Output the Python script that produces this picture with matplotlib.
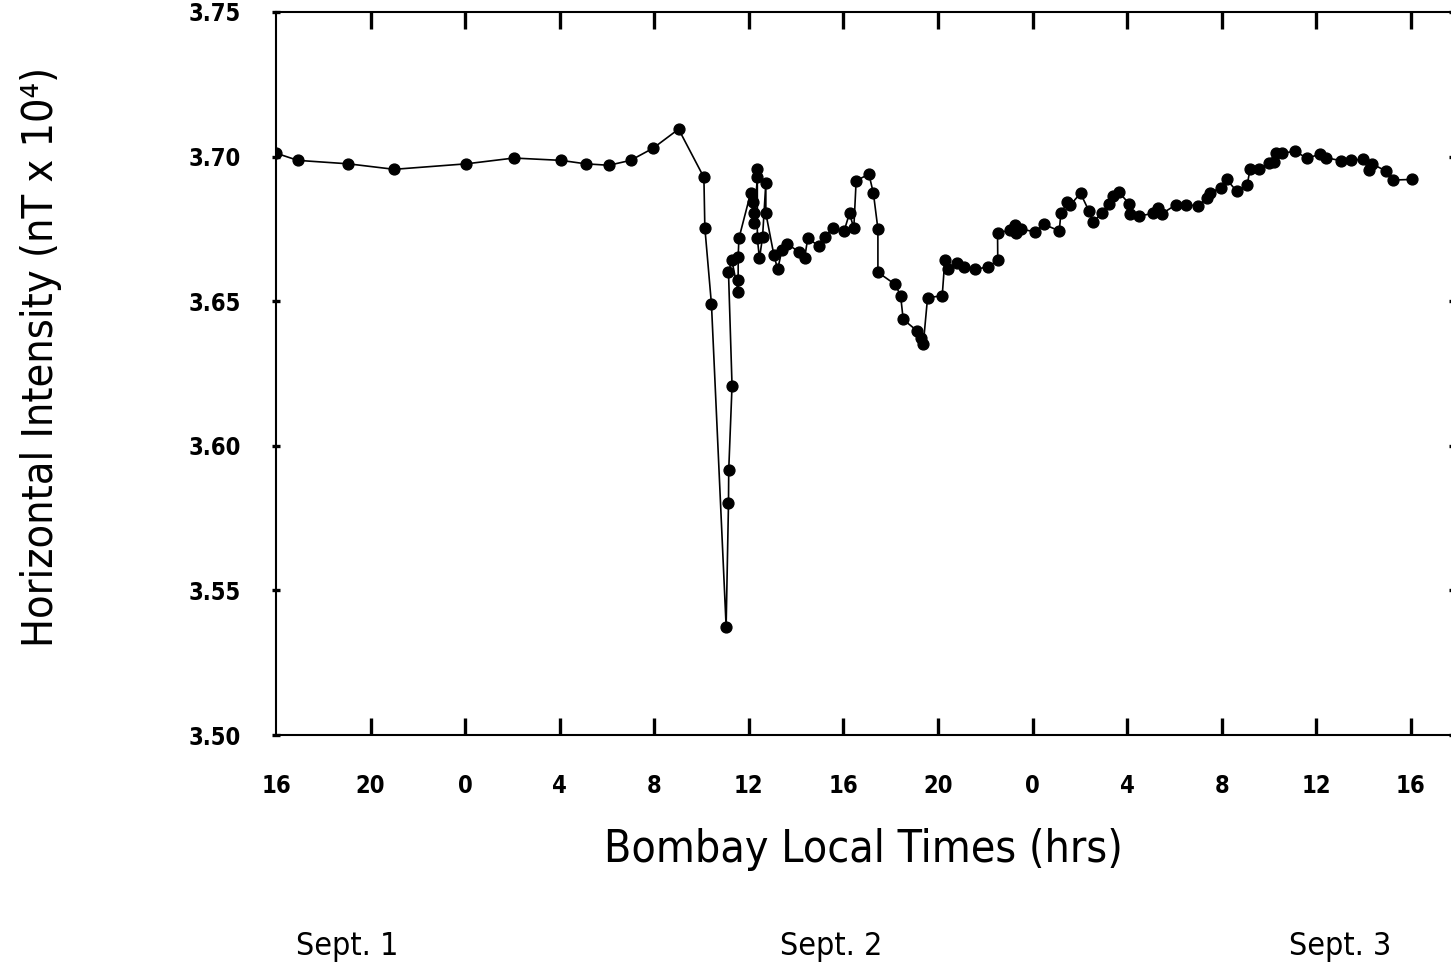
import matplotlib
matplotlib.use("Agg")
import matplotlib.pyplot as plt
import matplotlib.transforms as mtransforms

# Horizontal intensity at Bombay, Sept 1-3
# hours counted from Sept. 1, 16:00 local time
hours = [
    0.00, 0.92, 3.06, 5.00, 8.05, 10.06, 12.05, 13.10, 14.08, 15.00, 15.95, 17.03,
    18.10, 18.14, 18.42, 19.04, 19.14, 19.15, 19.29, 19.14, 19.28, 19.55, 19.55,
    19.55, 19.58, 20.08, 20.18, 20.22, 20.22, 20.36, 20.36, 20.36, 20.45, 20.58,
    20.72, 20.72, 21.06, 21.22, 21.40, 21.63, 22.11, 22.36, 22.49, 22.97, 23.21,
    23.55, 24.03, 24.26, 24.44, 24.54, 25.08, 25.27, 25.46, 25.46, 26.19, 26.42,
    26.53, 27.11, 27.29, 27.38, 27.56, 28.18, 28.29, 28.42, 28.79, 29.10, 29.58,
    30.12, 30.53, 30.52, 31.03, 31.24, 31.28, 31.51, 32.12, 32.48, 33.13, 33.20,
    33.47, 33.60, 34.03, 34.38, 34.55, 34.95, 35.22, 35.42, 35.65, 36.10, 36.14,
    36.49, 37.11, 37.32, 37.46, 38.06, 38.49, 38.99, 39.40, 39.50, 39.99, 40.21,
    40.63, 41.08, 41.20, 41.57, 41.99, 42.20, 42.29, 42.54, 43.10, 43.61, 44.17,
    44.42, 45.04, 45.46, 45.97, 46.22, 46.36, 46.95, 47.26, 48.05,
]
h_intensity = [
    3.7012, 3.6987, 3.6975, 3.6956, 3.6975, 3.6995, 3.6987, 3.6975, 3.6970, 3.6987,
    3.7029, 3.7095, 3.6928, 3.6754, 3.6489, 3.5375, 3.5801, 3.5916, 3.6208, 3.6600,
    3.6642, 3.6533, 3.6573, 3.6654, 3.6717, 3.6875, 3.6844, 3.6804, 3.6770, 3.6928,
    3.6956, 3.6717, 3.6648, 3.6721, 3.6910, 3.6804, 3.6660, 3.6610, 3.6677, 3.6698,
    3.6671, 3.6648, 3.6717, 3.6691, 3.6723, 3.6752, 3.6743, 3.6804, 3.6752, 3.6917,
    3.6939, 3.6873, 3.6750, 3.6600, 3.6558, 3.6519, 3.6437, 3.6398, 3.6372, 3.6352,
    3.6512, 3.6519, 3.6642, 3.6610, 3.6631, 3.6619, 3.6610, 3.6619, 3.6642, 3.6735,
    3.6746, 3.6763, 3.6735, 3.6749, 3.6740, 3.6766, 3.6743, 3.6804, 3.6842, 3.6833,
    3.6873, 3.6813, 3.6775, 3.6804, 3.6836, 3.6864, 3.6877, 3.6836, 3.6802, 3.6794,
    3.6804, 3.6822, 3.6802, 3.6833, 3.6833, 3.6830, 3.6856, 3.6875, 3.6893, 3.6921,
    3.6881, 3.6902, 3.6956, 3.6956, 3.6977, 3.6982, 3.7011, 3.7011, 3.7019, 3.6994,
    3.7009, 3.6996, 3.6986, 3.6988, 3.6990, 3.6954, 3.6975, 3.6950, 3.6919, 3.6921,
]

tick_hours = list(range(0, 49, 4))
tick_labels = ["16", "20", "0", "4", "8", "12", "16", "20", "0", "4", "8", "12", "16"]
y_ticks = [3.50, 3.55, 3.60, 3.65, 3.70, 3.75]
day_labels = ["Sept. 1", "Sept. 2", "Sept. 3"]
day_label_hours = [3.0, 23.5, 45.0]

plt.rcParams["font.family"] = ["DejaVu Sans"]
plt.rcParams["font.stretch"] = "condensed"

fig = plt.figure(figsize=(14.51, 9.67), dpi=100)
ax = fig.add_axes([0.1902, 0.2399, 0.8111, 0.7477])

ax.plot(hours, h_intensity, color="black", linewidth=1.2,
        marker="o", markersize=7.8, markerfacecolor="black",
        markeredgecolor="black")

ax.set_xlim(0, 49.78)
ax.set_ylim(3.50, 3.75)

ax.set_xticks(tick_hours[1:])
ax.set_xticklabels([])
ax.set_yticks(y_ticks)
ax.set_yticklabels([f"{v:.2f}" for v in y_ticks])

ax.tick_params(axis="x", which="both", direction="in", length=12, width=2.4,
               top=True, bottom=True)
ax.tick_params(axis="y", which="both", direction="inout", length=6, width=2.4,
               left=True, right=True, pad=22)
for lbl in ax.get_yticklabels():
    lbl.set_fontsize(17)
    lbl.set_fontweight("bold")
    lbl.set_fontstretch("condensed")

# hour labels sit below the axis, including the first one at the corner
trans = mtransforms.blended_transform_factory(ax.transData, ax.transAxes)
for h, lab in zip(tick_hours, tick_labels):
    ax.text(h, -0.07, lab, transform=trans, ha="center", va="center",
            fontsize=17, fontweight="bold", fontstretch="condensed")

for spine in ax.spines.values():
    spine.set_linewidth(1.5)

ax.set_ylabel("Horizontal Intensity (nT x 10\u2074)", fontsize=31,
              fontstretch="condensed")
ax.yaxis.set_label_coords(-0.182, 0.523)
ax.set_xlabel("Bombay Local Times (hrs)", fontsize=32, fontstretch="condensed")
ax.xaxis.set_label_coords(0.499, -0.128)

for h, lab in zip(day_label_hours, day_labels):
    ax.text(h, -0.293, lab, transform=trans, ha="center", va="center",
            fontsize=23, fontstretch="condensed")

fig.savefig("out.png", dpi=100)
